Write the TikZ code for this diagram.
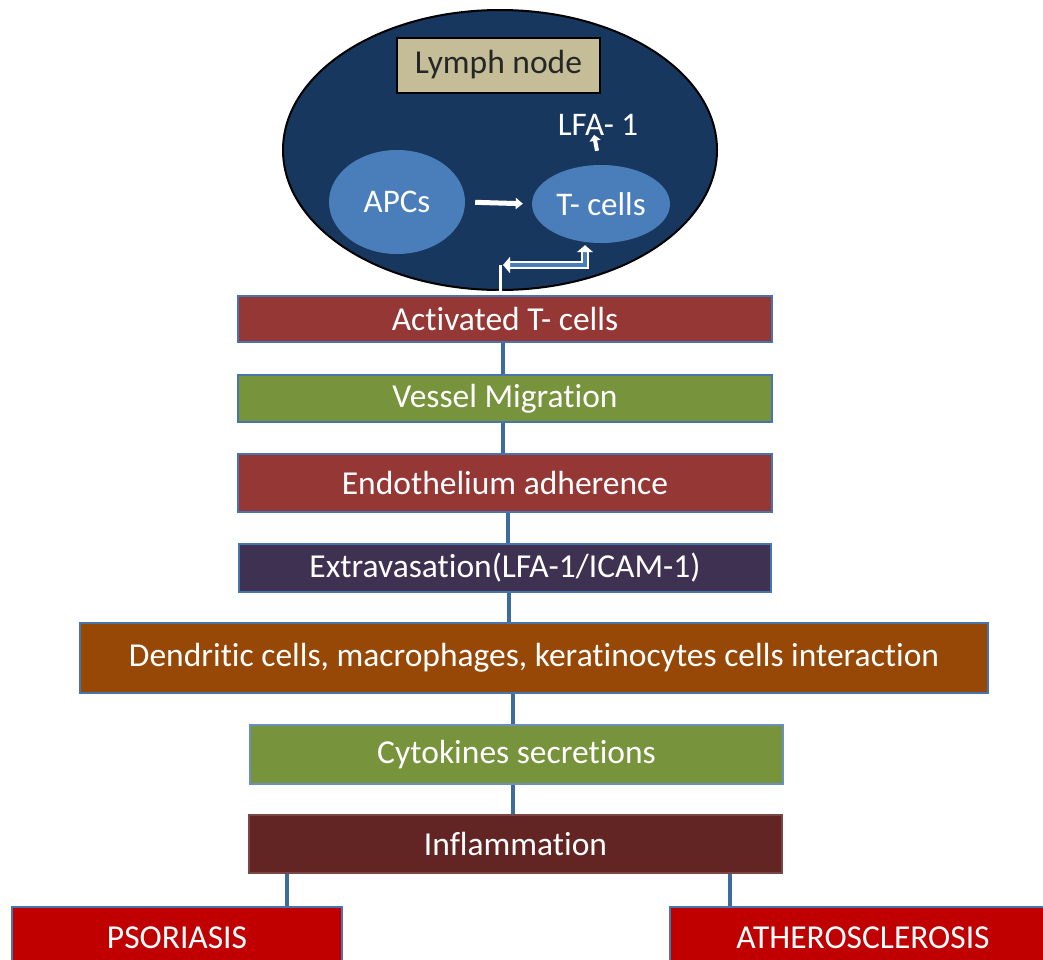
\documentclass[tikz,border=0pt]{standalone}
\usepackage{fontspec}
\setmainfont{Carlito}[Ligatures={NoCommon}]
\usetikzlibrary{shapes.geometric,arrows.meta,calc}
\definecolor{navy}{HTML}{17375E}
\definecolor{tan}{HTML}{C4BD97}
\definecolor{cellblue}{HTML}{4A7EBB}
\definecolor{bord}{HTML}{4774AC}
\definecolor{conn}{HTML}{3D6A9F}
\definecolor{redbox}{HTML}{953735}
\definecolor{greenbox}{HTML}{77933C}
\definecolor{purplebox}{HTML}{3F3151}
\definecolor{brownbox}{HTML}{974806}
\definecolor{darkred}{HTML}{632523}
\definecolor{brightred}{HTML}{C00000}
\begin{document}
\begin{tikzpicture}[x=1pt,y=-1pt,
  box/.style={draw=bord, line width=2.5pt, text=white, inner sep=0pt,
    font=\fontsize{33.5}{40}\selectfont},
  cell/.style={ellipse, fill=cellblue, text=white, inner sep=0pt,
    font=\fontsize{33}{40}\selectfont},
  link/.style={draw=conn, line width=4pt},
  warrow/.style={draw=white, line width=5pt, -{Triangle[length=7pt,width=11pt]}},
]
\useasboundingbox (0,0) rectangle (1043,959);
% lymph node
\node[ellipse, draw=black, line width=2pt, fill=navy, minimum width=434pt, minimum height=280pt] (lymph) at (500,150) {};
\node[draw=black, line width=2pt, fill=tan, minimum width=203pt, minimum height=55pt, inner sep=0pt,
  font=\fontsize{33.5}{40}\selectfont, text=black!85] (lnlabel) at (498.5,65) {Lymph node};
\node[cell, minimum width=136pt, minimum height=104pt] (apc) at (397,202) {APCs};
\node[cell, minimum width=138pt, minimum height=78pt] (tc) at (601,204) {T- cells};
\node[text=white, font=\fontsize{33}{40}\selectfont, inner sep=0pt] (lfa) at (598,125) {LFA- 1};
\draw[warrow, shorten <=10pt, shorten >=9pt] (apc.east) -- (tc.west);
\draw[draw=white, line width=4pt, -{Triangle[length=6pt,width=11pt]}] ([xshift=-4pt,yshift=14pt]tc.north) -- ([xshift=-4pt,yshift=1pt]lfa.south);

% boxes
\node[box, fill=redbox, minimum width=534pt, minimum height=46pt] (act) at (505,319) {Activated T- cells};
\node[box, fill=greenbox, minimum width=534pt, minimum height=47pt] (ves) at (505,398.5) {Vessel Migration};
\node[box, fill=redbox, minimum width=534pt, minimum height=58pt] (endo) at (505,483) {Endothelium adherence};
\node[box, fill=purplebox, minimum width=532pt, minimum height=48pt] (extra) at (505,568) {Extravasation(LFA-1/ICAM-1)};
\node[box, fill=brownbox, minimum width=908pt, minimum height=70pt] (dend) at (534,658) {Dendritic cells, macrophages, keratinocytes cells interaction};
\node[box, draw=bord!80!white, fill=greenbox, minimum width=533pt, minimum height=59pt] (cyto) at (516.5,754.5) {Cytokines secretions};
\node[box, draw=darkred!85!white, fill=darkred, minimum width=533pt, minimum height=58pt] (infl) at (515.5,844) {Inflammation};
\node[box, fill=brightred, minimum width=330pt, minimum height=62pt] (psor) at (177,938) {PSORIASIS};
\node[box, fill=brightred, minimum width=386pt, minimum height=62pt] (ath) at (863,938) {ATHEROSCLEROSIS};

% double arrow from activated T-cells to T-cells
\coordinate (elb) at (500,265);
\draw[draw=white, line width=3pt, -{Triangle[length=4pt,width=8pt]}] (elb) -- (elb |- act.north);
\draw[draw=white, double=cellblue, double distance=3.5pt, line width=2.5pt,
  {Triangle[length=7pt,width=16pt]}-{Triangle[length=7pt,width=16pt]}]
  ([xshift=3pt]elb) -| ([xshift=-16pt,yshift=-2pt]tc.south);

% connectors
\draw[link] ([xshift=-2pt]act.south) -- ([xshift=-2pt]ves.north);
\draw[link] ([xshift=-2pt]ves.south) -- ([xshift=-2pt]endo.north);
\draw[link] ([xshift=3pt]endo.south) -- ([xshift=3pt]extra.north);
\draw[link] ([xshift=4pt]extra.south) -- ([xshift=4pt]extra.south |- dend.north);
\draw[link] ([xshift=-4pt]cyto.north |- dend.south) -- ([xshift=-4pt]cyto.north);
\draw[link] ([xshift=-4pt]cyto.south) -- ([xshift=-4pt]cyto.south |- infl.north);
\draw[link] ([xshift=39pt]infl.south west) -- ([xshift=39pt]infl.south west |- psor.north);
\draw[link] ([xshift=-53pt]infl.south east) -- ([xshift=-53pt]infl.south east |- ath.north);
\end{tikzpicture}
\end{document}
